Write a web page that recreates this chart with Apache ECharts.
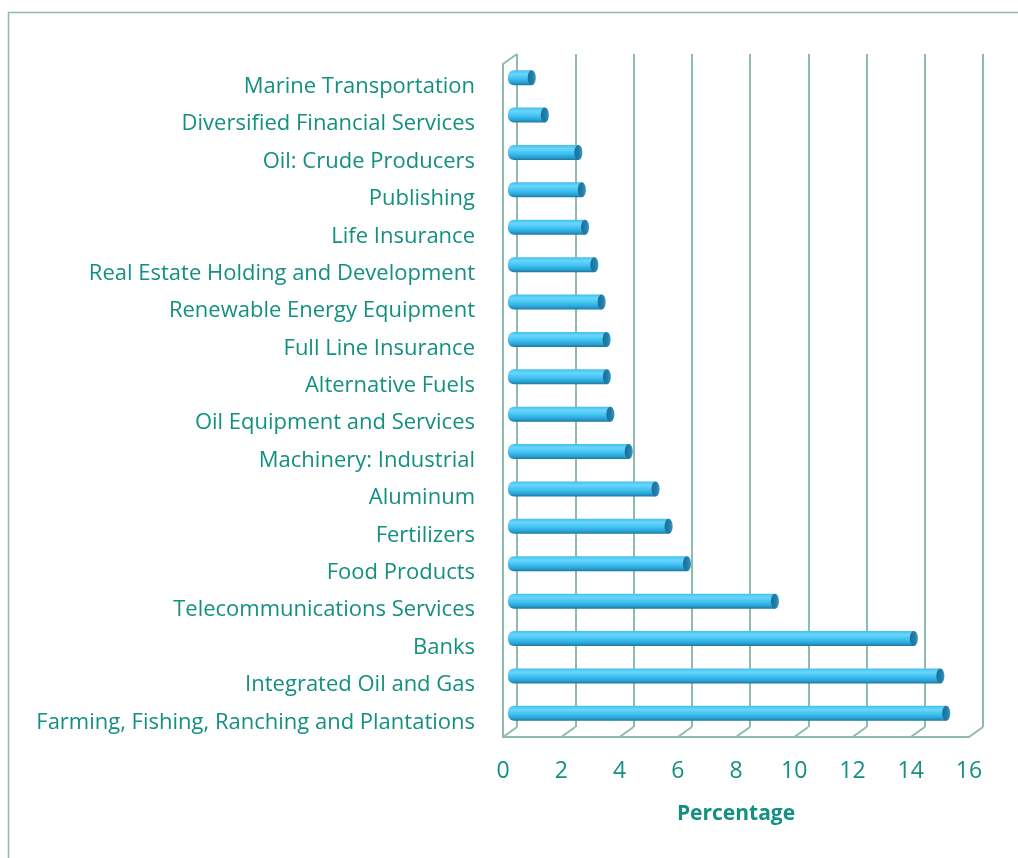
<!DOCTYPE html>
<html>
<head>
<meta charset="utf-8">
<script src="https://cdn.jsdelivr.net/npm/echarts@6/dist/echarts.min.js"></script>
<style>html,body{margin:0;padding:0;background:#fff;}#c{width:1018px;height:858px;}</style>
</head>
<body>
<div id="c"></div>
<script>
const categories = [
  "Marine Transportation",
  "Diversified Financial Services",
  "Oil: Crude Producers",
  "Publishing",
  "Life Insurance",
  "Real Estate Holding and Development",
  "Renewable Energy Equipment",
  "Full Line Insurance",
  "Alternative Fuels",
  "Oil Equipment and Services",
  "Machinery: Industrial",
  "Aluminum",
  "Fertilizers",
  "Food Products",
  "Telecommunications Services",
  "Banks",
  "Integrated Oil and Gas",
  "Farming, Fishing, Ranching and Plantations"
];
const values = [0.85, 1.3, 2.45, 2.57, 2.68, 3.0, 3.25, 3.42, 3.43, 3.55, 4.18, 5.1, 5.55, 6.18, 9.2, 13.97, 14.88, 15.08];
const xTicks = [0, 2, 4, 6, 8, 10, 12, 14, 16];
const axisName = "Percentage";

const TEAL = '#13907f';
const GRIDC = '#8fbab0';
const FONT = '"Open Sans"';
const DX = 14, DY = 10;

const chart = echarts.init(document.getElementById('c'), null, {renderer: 'canvas'});

const option = {
  animation: false,
  backgroundColor: '#ffffff',
  graphic: [{
    type: 'rect', silent: true, z: -10,
    shape: {x: 8.5, y: 12.5, width: 1100, height: 900},
    style: {fill: 'none', stroke: GRIDC, lineWidth: 1.5}
  }],
  grid: [
    {left: 517, top: 54, width: 466, height: 673},
    {left: 503, top: 64, width: 466, height: 673},
    {left: 510, top: 59, width: 466, height: 673},
    {left: 503, top: 68, width: 466, height: 673}
  ],
  xAxis: [
    {gridIndex: 0, type: 'value', min: 0, max: 16, interval: 2,
     axisLine: {show: false}, axisTick: {show: false}, axisLabel: {show: false},
     splitLine: {show: true, lineStyle: {color: GRIDC, width: 2}}},
    {gridIndex: 1, type: 'value', min: 0, max: 16, interval: 2,
     axisLine: {show: true, lineStyle: {color: GRIDC, width: 2}},
     axisTick: {show: false}, splitLine: {show: false},
     axisLabel: {color: TEAL, fontSize: 23, fontFamily: FONT, margin: 23,
       formatter: function (v) { return xTicks.indexOf(v) >= 0 ? String(v) : ''; }},
     name: axisName, nameLocation: 'middle', nameGap: 67,
     nameTextStyle: {color: TEAL, fontSize: 21, fontWeight: 'bold', fontFamily: FONT}},
    {gridIndex: 2, type: 'value', min: 0, max: 16, interval: 2, show: false},
    {gridIndex: 3, type: 'value', min: 0, max: 16, interval: 2, show: false}
  ],
  yAxis: [
    {gridIndex: 0, type: 'category', data: categories, inverse: true, show: false},
    {gridIndex: 1, type: 'category', data: categories, inverse: true,
     axisLine: {show: true, lineStyle: {color: GRIDC, width: 2}},
     axisTick: {show: false}, splitLine: {show: false}, axisLabel: {show: false}},
    {gridIndex: 2, type: 'category', data: categories, inverse: true, show: false},
    {gridIndex: 3, type: 'category', data: categories, inverse: true,
     axisLine: {show: false}, axisTick: {show: false}, splitLine: {show: false},
     axisLabel: {color: TEAL, fontSize: 22, fontFamily: FONT, margin: 28}}
  ],
  series: [
    {
      type: 'custom', xAxisIndex: 1, yAxisIndex: 1, silent: true,
      data: xTicks.map(v => [v, 0]),
      renderItem: function (params, api) {
        const v = api.value(0);
        const cs = params.coordSys;
        const x = api.coord([v, 0])[0];
        const yb = cs.y + cs.height;
        const children = [{
          type: 'line',
          shape: {x1: x, y1: yb, x2: x + DX, y2: yb - DY},
          style: {stroke: GRIDC, lineWidth: 2}
        }];
        if (v === 0) {
          children.push({
            type: 'line',
            shape: {x1: x, y1: cs.y, x2: x + DX, y2: cs.y - DY},
            style: {stroke: GRIDC, lineWidth: 2}
          });
        }
        return {type: 'group', children: children};
      }
    },
    {
      type: 'custom', xAxisIndex: 2, yAxisIndex: 2, silent: true,
      data: values.map((v, i) => [v, i]),
      renderItem: function (params, api) {
        const p0 = api.coord([0, api.value(1)]);
        const p1 = api.coord([api.value(0), api.value(1)]);
        const h = 15;
        const x0 = p0[0] - 2;
        const xe = p1[0] - 3;
        const y = p0[1] - h / 2;
        return {
          type: 'group',
          children: [
            {type: 'rect',
             shape: {x: x0, y: y, width: xe - x0, height: h, r: [6, 0, 0, 6]},
             style: {fill: new echarts.graphic.LinearGradient(0, 0, 0, 1, [
               {offset: 0, color: '#40c0ee'},
               {offset: 0.25, color: '#6ad6fc'},
               {offset: 0.55, color: '#3fc2f3'},
               {offset: 0.82, color: '#2aa2d4'},
               {offset: 1, color: '#1c779f'}
             ])}},
            {type: 'ellipse',
             shape: {cx: xe, cy: p0[1], rx: 4, ry: h / 2},
             style: {fill: new echarts.graphic.LinearGradient(0, 0, 1, 0, [
               {offset: 0, color: '#1b6f96'},
               {offset: 0.6, color: '#237fa8'},
               {offset: 1, color: '#3a9bc4'}
             ])}}
          ]
        };
      }
    }
  ]
};
chart.setOption(option);
</script>
</body>
</html>
